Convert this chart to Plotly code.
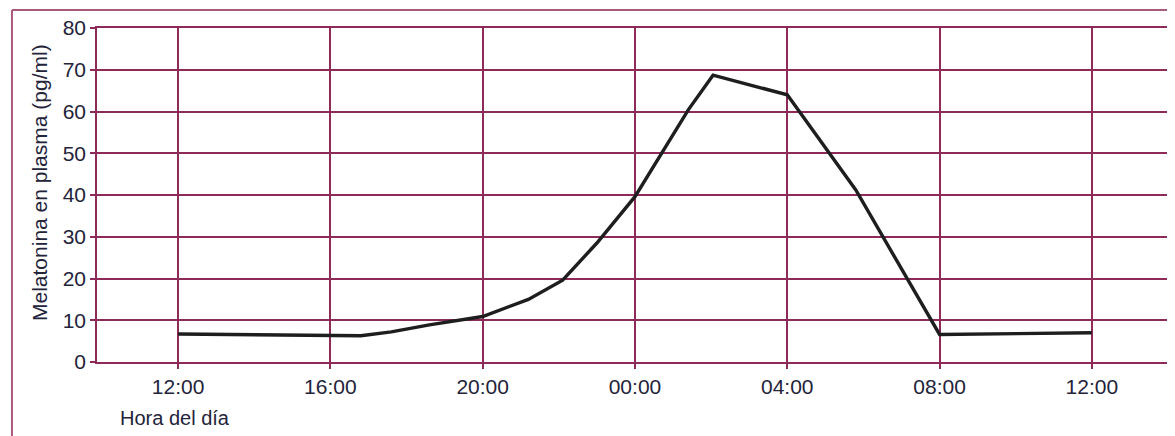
import plotly.graph_objects as go

# hours after 12:00 of the first day
hours = [0, 4.8, 5.6, 6.6, 8.0, 9.2, 10.1, 11.0, 12.0, 13.4, 14.05, 16.0, 17.8, 20.0, 24.0]
melatonin = [6.7, 6.3, 7.2, 8.9, 10.9, 15.0, 19.6, 28.5, 39.6, 60.4, 68.7, 64.0, 41.2, 6.6, 7.0]

tick_hours = [0, 4, 8, 12, 16, 20, 24]
tick_labels = ["12:00", "16:00", "20:00", "00:00", "04:00", "08:00", "12:00"]
y_ticks = [0, 10, 20, 30, 40, 50, 60, 70, 80]

grid = "#8e2a58"
frame = "#a85a7e"
txt = "#23233a"
font_fam = "Liberation Sans, Arial, sans-serif"

fig = go.Figure()
fig.add_trace(go.Scatter(
    x=hours, y=melatonin, mode="lines",
    line=dict(color="#1e1e1e", width=3.4, shape="linear"),
    showlegend=False, hoverinfo="skip",
))

axis_common = dict(
    showgrid=True, gridcolor=grid, gridwidth=1.6,
    showline=True, linecolor=grid, linewidth=1.6, mirror=True,
    ticks="outside", ticklen=5, tickcolor=grid, tickwidth=1.6,
    zeroline=False, automargin=False,
    tickfont=dict(size=21, color=txt, family=font_fam),
)

fig.update_layout(
    width=1167, height=428,
    margin=dict(l=89, r=7, t=20, b=74),
    paper_bgcolor="white", plot_bgcolor="white",
    font=dict(family=font_fam, color=txt, size=20),
    xaxis=dict(range=[-2.13, 26.0], tickvals=tick_hours, ticktext=tick_labels, **axis_common),
    yaxis=dict(range=[0, 80], tickvals=y_ticks, **axis_common),
    shapes=[
        dict(type="line", xref="paper", yref="paper", x0=-0.0794, x1=1.01, y0=1.054, y1=1.054,
             line=dict(color=frame, width=2)),
        dict(type="line", xref="paper", yref="paper", x0=-0.0794, x1=-0.0794, y0=1.054, y1=-0.23,
             line=dict(color=frame, width=2)),
    ],
    annotations=[
        dict(text="Melatonina en plasma (pg/ml)", xref="paper", yref="paper",
             x=-0.0532, y=0.536, xanchor="center", yanchor="middle", textangle=-90,
             showarrow=False, font=dict(size=21, color=txt, family=font_fam)),
        dict(text="Hora del día", xref="paper", yref="paper", x=0.0196, y=-0.1677,
             xanchor="left", yanchor="middle", showarrow=False,
             font=dict(size=20, color=txt, family=font_fam)),
    ],
)

fig.write_html("out.html")
